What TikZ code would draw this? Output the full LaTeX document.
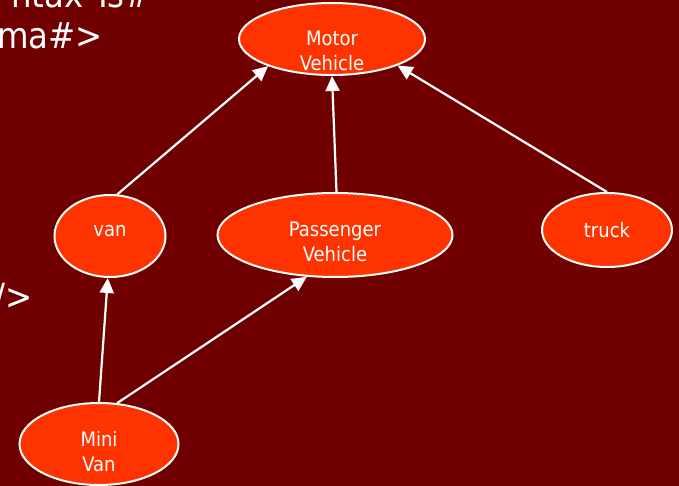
\documentclass[tikz,border=0pt]{standalone}
\usepackage{fontspec}
\setmainfont{DejaVu Sans Condensed}
\usetikzlibrary{arrows.meta, shapes.geometric, positioning}
\definecolor{slideRed}{HTML}{700000}
\definecolor{nodeRed}{HTML}{FF3300}
\tikzset{
    classNode/.style={ellipse, draw=white, line width=2pt, fill=nodeRed, inner sep=0pt},
    classText/.style={text=white, inner sep=0pt, align=center, font=\fontsize{20}{25}\selectfont},
    isaEdge/.style={-{Triangle[length=15pt, width=14pt]}, draw=white, line width=2.2pt},
    slideText/.style={text=white, inner sep=0pt, font=\fontsize{36}{42}\selectfont},
}
\newcommand{\drawIsa}[2]{
    \draw[isaEdge] (#1) -- (#2);
}
\begin{document}
\begin{tikzpicture}[x=1pt, y=-1pt]
        \useasboundingbox (0,0) rectangle (679,486);
        \fill[slideRed] (0,0) rectangle (679,486);

        % left over text of the slide behind
        \begin{scope}
            \clip (0,0) rectangle (679,486);
            \node[slideText, anchor=base east] (txtA) at (152,8) {ntax Ts\#};
            \node[slideText, anchor=base east] (txtB) at (103,49) {ma\#>};
            \node[slideText, anchor=base east] (txtC) at (33,309) {/>};
        \end{scope}

        \node[classNode, minimum width=186pt, minimum height=72pt,
            label={[classText, yshift=-12pt]center:{Motor\\Vehicle}}] (motor) at (332,39) {};
        \node[classNode, minimum width=111pt, minimum height=82pt,
            label={[classText, yshift=5pt]center:van}] (van) at (110,236) {};
        \node[classNode, minimum width=235pt, minimum height=84pt,
            label={[classText, yshift=-7pt]center:{Passenger\\Vehicle}}] (pass) at (335,235) {};
        \node[classNode, minimum width=130pt, minimum height=74pt,
            label={[classText]center:truck}] (truck) at (607,230) {};
        \node[classNode, minimum width=159pt, minimum height=82pt,
            label={[classText, yshift=-8pt]center:{Mini\\Van}}] (minivan) at (99,444) {};

        \drawIsa{van.80}{motor.203}
        \drawIsa{pass.88}{motor.270}
        \drawIsa{truck.north}{motor.338}
        \drawIsa{minivan.north}{van.267}
        \drawIsa{minivan.66}{pass.236}

    \end{tikzpicture}
\end{document}
